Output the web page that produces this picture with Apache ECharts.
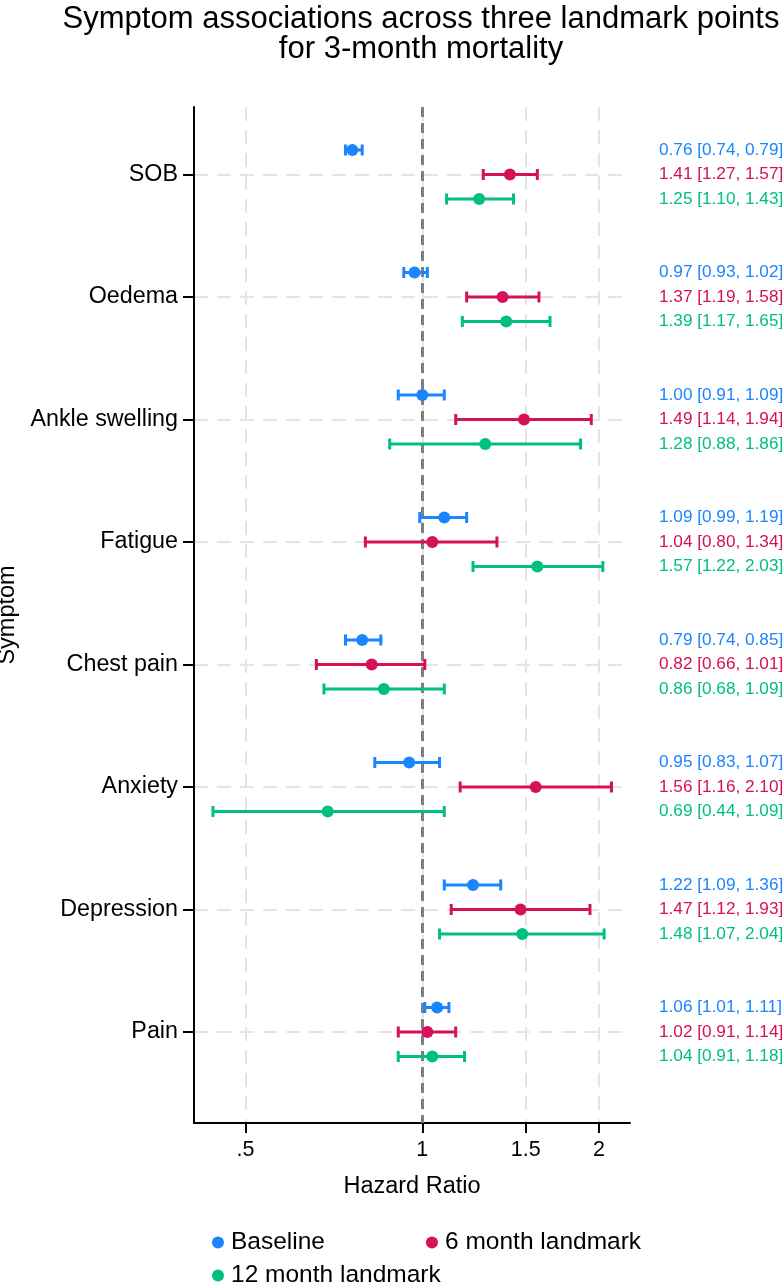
<!DOCTYPE html>
<html><head><meta charset="utf-8">
<script src="https://cdn.jsdelivr.net/npm/echarts@6/dist/echarts.min.js"></script>
<style>html,body{margin:0;padding:0;background:#fff}#c{width:784px;height:1283px}</style>
</head><body><div id="c"></div>
<script>
const symptoms = ['SOB','Oedema','Ankle swelling','Fatigue','Chest pain','Anxiety','Depression','Pain'];
const groups = ['Baseline','6 month landmark','12 month landmark'];
const baselineHR = [0.76,0.97,1.00,1.09,0.79,0.95,1.22,1.06];
const baselineLo = [0.74,0.93,0.91,0.99,0.74,0.83,1.09,1.01];
const baselineHi = [0.79,1.02,1.09,1.19,0.85,1.07,1.36,1.11];
const m6HR = [1.41,1.37,1.49,1.04,0.82,1.56,1.47,1.02];
const m6Lo = [1.27,1.19,1.14,0.80,0.66,1.16,1.12,0.91];
const m6Hi = [1.57,1.58,1.94,1.34,1.01,2.10,1.93,1.14];
const m12HR = [1.25,1.39,1.28,1.57,0.86,0.69,1.48,1.04];
const m12Lo = [1.10,1.17,0.88,1.22,0.68,0.44,1.07,0.91];
const m12Hi = [1.43,1.65,1.86,2.03,1.09,1.09,2.04,1.18];
const xTicks = [0.5,1,1.5,2];
const xTickLabels = ['.5','1','1.5','2'];

const FONT = '"Liberation Sans", Arial, Helvetica, sans-serif';
const colors = ['#1a85ff','#d41159','#00bf7f'];
const offsets = [-0.2, 0, 0.2];
const groupData = [[baselineHR,baselineLo,baselineHi],[m6HR,m6Lo,m6Hi],[m12HR,m12Lo,m12Hi]];
const rowPos = symptoms.map((s,i)=>i+1);
const fmt = v => v.toFixed(2);

function makeRender(g){
  const color = colors[g];
  const [hr,lo,hi] = groupData[g];
  return function(params, api){
    const y = api.value(3);
    const pLo = api.coord([api.value(0), y]);
    const pHi = api.coord([api.value(1), y]);
    const pE = api.coord([api.value(2), y]);
    const cs = params.coordSys;
    const i = params.dataIndex;
    const cap = 5.5;
    const ls = {stroke: color, lineWidth: 3};
    return {type:'group', children:[
      {type:'line', shape:{x1:pLo[0],y1:pLo[1],x2:pHi[0],y2:pHi[1]}, style:ls},
      {type:'line', shape:{x1:pLo[0],y1:pLo[1]-cap,x2:pLo[0],y2:pLo[1]+cap}, style:ls},
      {type:'line', shape:{x1:pHi[0],y1:pHi[1]-cap,x2:pHi[0],y2:pHi[1]+cap}, style:ls},
      {type:'circle', shape:{cx:pE[0],cy:pE[1],r:6}, style:{fill:color}},
      {type:'text', x: cs.x + cs.width + 29, y: pE[1], style:{
        text: fmt(hr[i]) + ' [' + fmt(lo[i]) + ', ' + fmt(hi[i]) + ']',
        fill: color, fontSize: 17.2, fontFamily: FONT, align:'left', verticalAlign:'middle'}}
    ]};
  };
}

const series = groups.map((name,g)=>({
  name, type:'custom', z:5, clip:false,
  itemStyle:{color: colors[g]},
  renderItem: makeRender(g),
  encode:{x:[0,1,2], y:3},
  data: symptoms.map((s,i)=>[Math.log(groupData[g][1][i]), Math.log(groupData[g][2][i]), Math.log(groupData[g][0][i]), rowPos[i]+offsets[g]])
}));
series.push({
  type:'line', data:[], z:2, silent:true,
  markLine:{silent:true, symbol:'none', label:{show:false}, animation:false,
    lineStyle:{color:'#7f7f7f', width:3, type:[10,6]},
    data:[{xAxis: Math.log(1)}]}
});

const lnTicks = xTicks.map(Math.log);
const legendText = {fontFamily:FONT, fontSize:24.5, color:'#000', padding:[0,0,0,2]};
const chart = echarts.init(document.getElementById('c'), null, {renderer:'canvas'});
chart.setOption({
  animation:false,
  backgroundColor:'#fff',
  title:{text:'Symptom associations across three landmark points\nfor 3-month mortality',
    left:416, top:-1, textAlign:'center',
    textStyle:{fontFamily:FONT, fontSize:31, fontWeight:'normal', color:'#000', lineHeight:30}},
  grid:{left:194, right:154, top:107, bottom:160, containLabel:false, outerBoundsMode:'none'},
  legend:[
    {data:[{name:'Baseline',icon:'circle'},{name:'6 month landmark',icon:'circle'}],
     left:207, top:1225, itemWidth:12, itemHeight:12, itemGap:101, selectedMode:false,
     textStyle:legendText},
    {data:[{name:'12 month landmark',icon:'circle'}],
     left:207, top:1258, itemWidth:12, itemHeight:12, selectedMode:false,
     textStyle:legendText}
  ],
  xAxis:{type:'value', min:Math.log(0.4085), max:Math.log(2.258),
    axisLine:{show:true, onZero:false, lineStyle:{color:'#000', width:2}},
    axisTick:{show:true, length:10, customValues:lnTicks, lineStyle:{color:'#000', width:2}},
    axisLabel:{customValues:lnTicks, margin:16, color:'#000', fontSize:21.5, fontFamily:FONT,
      formatter:v=>{const k=lnTicks.findIndex(t=>Math.abs(t-v)<1e-6); return k>=0?xTickLabels[k]:'';}},
    splitLine:{show:true, lineStyle:{color:'#e4e4e4', width:2, type:[14,9]}},
    name:'Hazard Ratio', nameLocation:'middle', nameGap:52,
    nameTextStyle:{fontFamily:FONT, fontSize:23.5, color:'#000'}},
  yAxis:{type:'value', inverse:true, min:0.449, max:8.743,
    axisLine:{show:true, onZero:false, lineStyle:{color:'#000', width:2}},
    axisTick:{show:true, length:11, customValues:rowPos, lineStyle:{color:'#000', width:2}},
    axisLabel:{customValues:rowPos, margin:16, color:'#000', fontSize:23.3, fontFamily:FONT,
      formatter:v=>symptoms[Math.round(v)-1]||''},
    splitLine:{show:true, lineStyle:{color:'#e4e4e4', width:2, type:[14,9]}},
    name:'Symptom', nameLocation:'middle', nameGap:169,
    nameTextStyle:{fontFamily:FONT, fontSize:23.5, color:'#000'}},
  series
});
</script></body></html>
